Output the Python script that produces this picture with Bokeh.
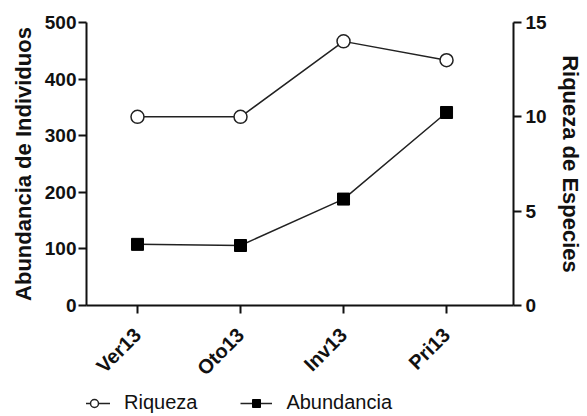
import math
from bokeh.plotting import figure
from bokeh.layouts import column
from bokeh.models import Range1d, LinearAxis, FixedTicker, Legend, LegendItem
from bokeh.embed import file_html
from bokeh.resources import INLINE

categories = ["Ver13", "Oto13", "Inv13", "Pri13"]
riqueza = [10, 10, 14, 13]
abundancia = [108, 106, 188, 341]
left_ticks = [0, 100, 200, 300, 400, 500]
right_ticks = [0, 5, 10, 15]
series_names = ["Riqueza", "Abundancia"]

xs = list(range(len(categories)))
font = "Liberation Sans"
ink = "#111111"

p = figure(width=587, height=392, output_backend="svg", toolbar_location=None,
           x_range=Range1d(-0.495, 3.65), y_range=Range1d(0, 500),
           min_border_left=86, min_border_right=74, min_border_top=22, min_border_bottom=87)
p.outline_line_color = None
p.xgrid.visible = False
p.ygrid.visible = False

p.extra_y_ranges = {"riq": Range1d(0, 15)}
raxis = LinearAxis(y_range_name="riq", ticker=FixedTicker(ticks=right_ticks),
                   axis_label="Riqueza de Especies")
p.add_layout(raxis, "right")

xa = p.xaxis[0]
ya = p.yaxis[0]
ya.ticker = FixedTicker(ticks=left_ticks)
ya.axis_label = "Abundancia de Individuos"
xa.ticker = FixedTicker(ticks=xs)
xa.major_label_overrides = {i: c for i, c in enumerate(categories)}
xa.major_label_orientation = math.pi / 4

for ax in [xa, ya, raxis]:
    ax.axis_line_width = 2
    ax.axis_line_color = ink
    ax.major_tick_line_width = 2
    ax.major_tick_line_color = ink
    ax.major_tick_in = 0
    ax.major_tick_out = 8
    ax.minor_tick_line_color = None
    ax.major_label_text_font = font
    ax.major_label_text_font_style = "bold"
    ax.major_label_text_font_size = "19px"
    ax.major_label_text_color = ink
    ax.axis_label_text_font = font
    ax.axis_label_text_font_style = "bold"
    ax.axis_label_text_font_size = "22px"
    ax.axis_label_text_color = ink

ya.major_label_standoff = 2
raxis.major_label_standoff = 4
ya.axis_label_standoff = 6
raxis.axis_label_standoff = 8
xa.major_label_text_font_size = "20px"
xa.major_label_standoff = 18

p.line(xs, riqueza, y_range_name="riq", line_color="#222222", line_width=1.5)
p.scatter(xs, riqueza, y_range_name="riq", marker="circle", size=13,
          fill_color="white", line_color="#222222", line_width=1.5)
p.line(xs, abundancia, line_color="#222222", line_width=1.5)
p.scatter(xs, abundancia, marker="square", size=12,
          fill_color="black", line_color="black")

# legend strip (proxy renderers use the same data, kept out of view)
q = figure(width=587, height=24, output_backend="svg", toolbar_location=None,
           x_range=Range1d(100, 101), y_range=Range1d(1000, 1001),
           x_axis_type=None, y_axis_type=None,
           min_border_left=0, min_border_right=0, min_border_top=0, min_border_bottom=0)
q.outline_line_color = None
q.xgrid.visible = False
q.ygrid.visible = False
ql1 = q.line(xs, riqueza, line_color="#222222", line_width=1.5)
qm1 = q.scatter(xs, riqueza, marker="circle", size=13, fill_color="white",
                line_color="#222222", line_width=1.5)
ql2 = q.line(xs, abundancia, line_color="#222222", line_width=1.5)
qm2 = q.scatter(xs, abundancia, marker="square", size=12, fill_color="black", line_color="black")

legend = Legend(items=[LegendItem(label=series_names[0], renderers=[ql1, qm1]),
                       LegendItem(label=series_names[1], renderers=[ql2, qm2])],
                orientation="horizontal", location=(-8, 2),
                glyph_width=32, glyph_height=20, label_standoff=14, spacing=43,
                padding=0, margin=0, border_line_color=None,
                background_fill_alpha=0,
                label_text_font=font, label_text_font_size="20px",
                label_text_color=ink)
q.add_layout(legend, "center")

layout = column(p, q, spacing=0)
open("out.html", "w").write(file_html(layout, INLINE))
